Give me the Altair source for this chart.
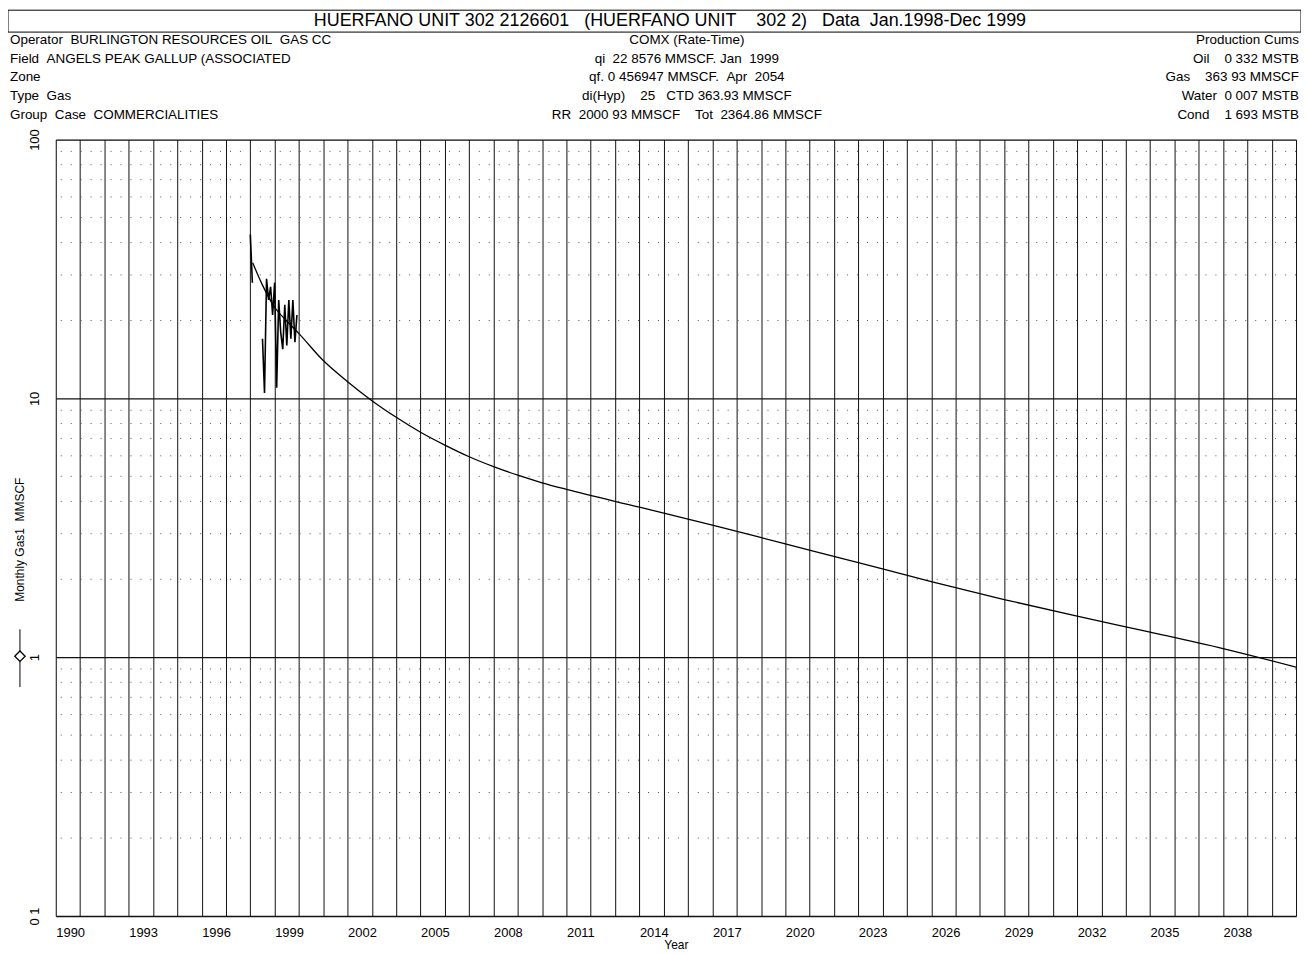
import altair as alt
import pandas as pd

FONT = "Liberation Sans"

# ---------------- data ----------------
# monthly production, month index counted from Jan 1998 (gaps = no plotted value)
prod_month = [0, 1, 6, 7, 8, 9, 10, 11, 12, 13, 14, 15, 16, 17, 18, 19, 20, 21, 22, 23]
prod_gas = [43, 28, 17, 10.5, 29, 24, 27, 21, 28, 11, 24, 18, 15.5, 23, 16, 24, 17, 24, 16.5, 21]
prod_seg = [1, 1, 2, 2, 2, 2, 2, 2, 2, 2, 2, 2, 2, 2, 2, 2, 2, 2, 2, 2]

# forecast (rate-time) curve
fc_year = [1998.1, 1998.5, 1999, 1999.5, 2000, 2001, 2002, 2003, 2004, 2005, 2006, 2007,
           2008, 2009, 2010, 2011, 2014, 2017, 2020, 2023, 2026, 2029, 2032, 2035, 2038, 2041]
fc_gas = [33.4, 27.4, 22.5, 19.9, 17.8, 14.0, 11.6, 9.8, 8.45, 7.4, 6.6, 5.95,
          5.45, 5.05, 4.72, 4.45, 3.80, 3.24, 2.74, 2.32, 1.96, 1.67, 1.44, 1.25, 1.08, 0.916]

year_ticks = list(range(1990, 2042))
y_ticks = [0.1, 1, 10, 100]
y_minor = [0.2, 0.3, 0.4, 0.5, 0.6, 0.7, 0.8, 0.9,
           2, 3, 4, 5, 6, 7, 8, 9,
           20, 30, 40, 50, 60, 70, 80, 90]

def nb(s):
    return s.replace("  ", "\u00a0\u00a0")

title_text = nb("HUERFANO UNIT 302 2126601   (HUERFANO UNIT    302 2)   Data  Jan.1998-Dec 1999")
left_lines = [nb(s) for s in ["Operator  BURLINGTON RESOURCES OIL  GAS CC",
                              "Field  ANGELS PEAK GALLUP (ASSOCIATED",
                              "Zone",
                              "Type  Gas",
                              "Group  Case  COMMERCIALITIES"]]
center_lines = [nb(s) for s in ["COMX (Rate-Time)",
                                "qi  22 8576 MMSCF. Jan  1999",
                                "qf. 0 456947 MMSCF.  Apr  2054",
                                "di(Hyp)    25   CTD 363.93 MMSCF",
                                "RR  2000 93 MMSCF    Tot  2364.86 MMSCF"]]
right_lines = [nb(s) for s in ["Production Cums",
                               "Oil    0 332 MSTB",
                               "Gas    363 93 MMSCF",
                               "Water  0 007 MSTB",
                               "Cond    1 693 MSTB"]]
y_title = nb("Monthly Gas1  MMSCF")
x_title = "Year"

prod = pd.DataFrame({"year": [1998 + m / 12 for m in prod_month], "gas": prod_gas, "seg": prod_seg})
fc = pd.DataFrame({"year": fc_year, "gas": fc_gas})
minor = pd.DataFrame({"gas": y_minor})
one = pd.DataFrame({"k": [0]})

xscale = alt.Scale(domain=[1990, 2041], nice=False, zero=False)
yscale = alt.Scale(type="log", domain=[0.1, 100], nice=False)

xaxis = alt.Axis(values=year_ticks, format="d",
                 labelExpr="((datum.value - 1990) % 3 == 0 && datum.value < 2040) ? datum.label : ''",
                 labelAlign="left", labelPadding=11, labelFontSize=13, labelColor="black",
                 tickSize=0, domain=False, grid=True, gridColor="#111", gridWidth=1, gridOpacity=1,
                 labelOverlap=False, labelFlush=False,
                 title=x_title, titleFontSize=12, titleFontWeight="normal", titleColor="black",
                 titlePadding=0)
yaxis = alt.Axis(values=y_ticks,
                 labelExpr="datum.value < 0.5 ? '0 1' : format(datum.value, 'd')",
                 labelAngle=-90, labelAlign="center", labelBaseline="bottom",
                 labelPadding=14, labelFontSize=13, labelColor="black",
                 tickSize=0, domain=False, grid=True, gridColor="#111", gridWidth=1.3, gridOpacity=1,
                 title=None)

minor_grid = alt.Chart(minor).mark_rule(color="#555", strokeWidth=1, strokeDash=[1, 9]).encode(
    y=alt.Y("gas:Q", scale=yscale, axis=yaxis)
)

curve = alt.Chart(fc).mark_line(color="black", strokeWidth=1.3, interpolate="monotone", clip=True).encode(
    x=alt.X("year:Q", scale=xscale, axis=xaxis),
    y=alt.Y("gas:Q", scale=yscale, axis=yaxis),
)

prodline = alt.Chart(prod).mark_line(color="black", strokeWidth=1.6).encode(
    x=alt.X("year:Q", scale=xscale, axis=xaxis),
    y=alt.Y("gas:Q", scale=yscale, axis=yaxis),
    detail="seg:N",
)

header_box = alt.Chart(one).mark_rect(fill="white", stroke="black", strokeWidth=1).encode(
    x=alt.value(-48), x2=alt.value(1251), y=alt.value(-130), y2=alt.value(-108)
)
header_text = alt.Chart(one).mark_text(text=title_text, font=FONT, fontSize=18, align="center",
                                       baseline="middle", color="black").encode(
    x=alt.value(617), y=alt.value(-119)
)
INFO_FS = 13.5
left_text = alt.Chart(one).mark_text(text=left_lines, font=FONT, fontSize=INFO_FS, lineHeight=18.8,
                                     align="left", baseline="top", color="black").encode(
    x=alt.value(-46), y=alt.value(-107)
)
center_text = alt.Chart(one).mark_text(text=center_lines, font=FONT, fontSize=INFO_FS, lineHeight=18.8,
                                       align="center", baseline="top", color="black").encode(
    x=alt.value(634), y=alt.value(-107)
)
right_text = alt.Chart(one).mark_text(text=right_lines, font=FONT, fontSize=INFO_FS, lineHeight=18.8,
                                      align="right", baseline="top", color="black").encode(
    x=alt.value(1249), y=alt.value(-107)
)
ytitle = alt.Chart(one).mark_text(text=y_title, font=FONT, fontSize=12, angle=270, align="center",
                                  baseline="middle", color="black").encode(
    x=alt.value(-36), y=alt.value(402)
)
legend_rule = alt.Chart(one).mark_rule(color="black", strokeWidth=1).encode(
    x=alt.value(-36), y=alt.value(492), y2=alt.value(550)
)
legend_pt = alt.Chart(one).mark_point(shape="diamond", filled=True, fill="white", stroke="black",
                                      strokeWidth=1.3, size=110, opacity=1).encode(
    x=alt.value(-36), y=alt.value(519)
)

chart = alt.layer(
    minor_grid, curve, prodline,
    header_box, header_text, left_text, center_text, right_text,
    ytitle, legend_rule, legend_pt,
).properties(
    width=1246, height=780,
    padding={"left": 48, "top": 130, "right": 5, "bottom": 40},
    autosize=alt.AutoSizeParams(type="none"),
    background="white",
).configure_view(
    stroke="black", strokeWidth=1.2
).configure(font=FONT)

chart.save("out.html", embed_options={"renderer": "svg", "actions": False})
